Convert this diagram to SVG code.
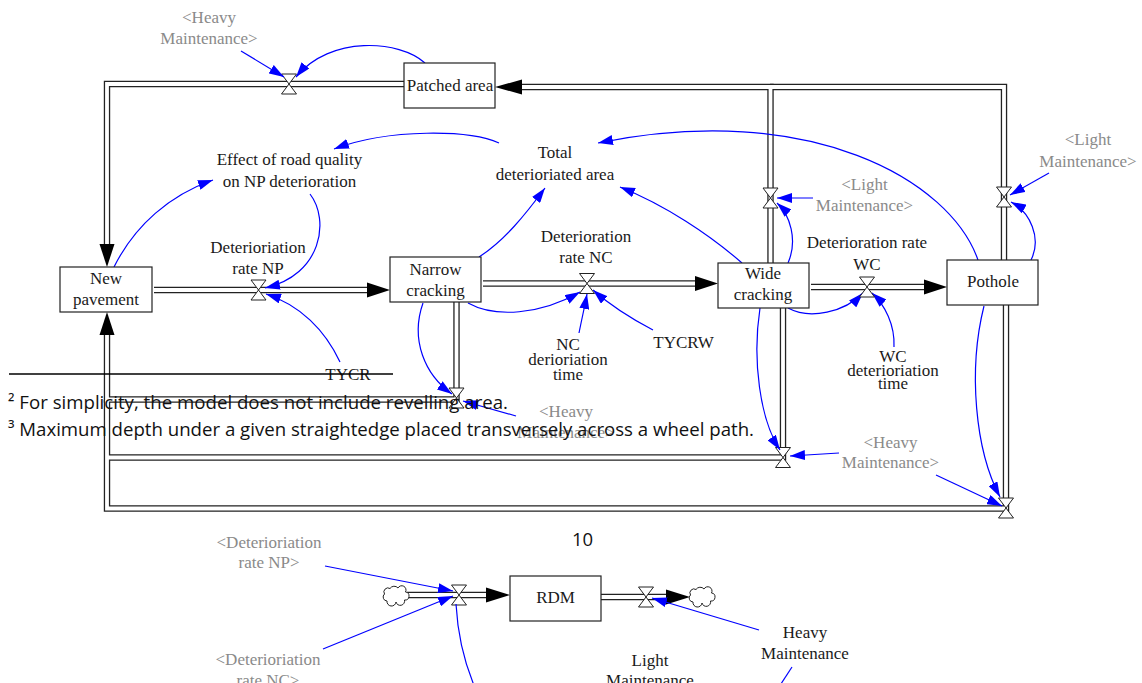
<svg xmlns="http://www.w3.org/2000/svg" width="1142" height="683" viewBox="0 0 1142 683">
<style>
 .t{font-family:"Liberation Serif","Times New Roman",serif;font-size:17px;fill:#1a1a1a;text-anchor:middle}
 .g{fill:#8a8a8a}
 .fn{font-family:"Open Sans","Noto Sans",sans-serif;font-size:18.5px;fill:#111}
 .box{fill:#fff;stroke:#222;stroke-width:1.2}
 .po{fill:none;stroke:#222;stroke-width:6.4;stroke-linejoin:miter}
 .pi{fill:none;stroke:#fff;stroke-width:3.8;stroke-linejoin:miter}
 .ph{fill:#000}
 .c{fill:none;stroke:#0000ff;stroke-width:1.2;marker-end:url(#ab)}
 .cn{fill:none;stroke:#0000ff;stroke-width:1.2}
 .v{fill:#fff;stroke:#222;stroke-width:1}
 .cl{fill:#fff;stroke:#222;stroke-width:1}
</style>
<defs>
 <marker id="ab" viewBox="0 0 15 10" refX="15" refY="5" markerWidth="15" markerHeight="10" markerUnits="userSpaceOnUse" orient="auto"><path d="M0,0 L15,5 L0,10 z" fill="#0000ff"/></marker>
 <path id="valve" d="M-7.5,-10 H7.5 L-7.5,10 H7.5 Z"/>
 <path id="cloud" d="M-8,6 A4 4 0 0 1 -10.5,-1 A4 4 0 0 1 -5,-6.5 A5 5 0 0 1 3,-7 A4 4 0 0 1 10.5,-3 A4 4 0 0 1 9.5,5 A4 4 0 0 1 1,7 A4 4 0 0 1 -8,6 Z"/>
</defs>
<rect width="1142" height="683" fill="#fff"/>

<g id="flows">
 <g>
  <path class="po" d="M404 84 H107 V248"/>
  <path class="po" d="M770.5 263 V87 H520"/>
  <path class="po" d="M1004 260 V87 H770"/>
  <path class="po" d="M154 290 H370"/>
  <path class="po" d="M483 283.5 H698"/>
  <path class="po" d="M811 287 H926"/>
  <path class="po" d="M456.5 302 V399.5 H107 V332"/>
  <path class="po" d="M783 308 V457.5 H107"/>
  <path class="po" d="M1006 305 V508.5 H107 V400"/>
  <path class="po" d="M407 595 H489"/>
  <path class="po" d="M601 597 H668"/>
 </g>
 <g>
  <path class="pi" d="M404 84 H107 V248"/>
  <path class="pi" d="M770.5 263 V87 H520"/>
  <path class="pi" d="M1004 260 V87 H770"/>
  <path class="pi" d="M154 290 H370"/>
  <path class="pi" d="M483 283.5 H698"/>
  <path class="pi" d="M811 287 H926"/>
  <path class="pi" d="M456.5 302 V399.5 H107 V332"/>
  <path class="pi" d="M783 308 V457.5 H107"/>
  <path class="pi" d="M1006 305 V508.5 H107 V400"/>
  <path class="pi" d="M407 595 H489"/>
  <path class="pi" d="M601 597 H668"/>
 </g>
 <polygon class="ph" points="99.5,244 114.5,244 107,267"/>
 <polygon class="ph" points="99.5,335 114.5,335 107,312"/>
 <polygon class="ph" points="367,282.5 367,297.5 390,290"/>
 <polygon class="ph" points="695,276 695,291 718,283.5"/>
 <polygon class="ph" points="924,279.5 924,294.5 947,287"/>
 <polygon class="ph" points="522,79.5 522,94.5 495,87"/>
 <polygon class="ph" points="486,587.5 486,602.5 510,595"/>
 <polygon class="ph" points="666,589.5 666,604.5 690,597"/>
 <use href="#valve" class="v" x="289" y="84"/>
 <use href="#valve" class="v" x="770.5" y="198"/>
 <use href="#valve" class="v" x="1004" y="197"/>
 <use href="#valve" class="v" x="456.5" y="398"/>
 <use href="#valve" class="v" x="783" y="457.5"/>
 <use href="#valve" class="v" x="1006" y="508"/>
 <use href="#valve" class="v" x="459" y="595"/>
 <use href="#valve" class="v" x="646" y="597"/>
 <use href="#cloud" class="cl" x="395" y="595"/>
 <use href="#cloud" class="cl" x="701" y="596"/>
</g>

<g id="connectors">
 <path class="c" d="M241 51 L284 77"/>
 <path class="c" d="M425 63 C400 40, 330 35, 296 77"/>
 <path class="c" d="M499 143 C470 130, 390 128, 334 149"/>
 <path class="c" d="M114 267 C135 225, 170 195, 213 180"/>
 <path class="c" d="M310 194 C330 220, 322 275, 265 288"/>
 <path class="c" d="M340 362 C325 330, 300 305, 266 294"/>
 <path class="c" d="M479 257 C505 240, 525 215, 545 188"/>
 <path class="c" d="M742 263 C710 235, 665 205, 620 187"/>
 <path class="c" d="M978 260 C950 180, 810 100, 598 143"/>
 <path class="c" d="M788 263 C798 240, 790 215, 777 203"/>
 <path class="c" d="M813 198 L777 198"/>
 <path class="c" d="M1031 260 C1042 238, 1030 212, 1011 202"/>
 <path class="c" d="M1049 173 L1010 195"/>
 <path class="c" d="M468 303 C495 318, 540 315, 580 292"/>
 <path class="c" d="M579 333 C582 318, 585 305, 587 294"/>
 <path class="c" d="M653 330 C630 318, 610 305, 593 290"/>
 <path class="c" d="M788 308 C810 320, 845 312, 863 293"/>
 <path class="c" d="M894 347 C895 325, 885 305, 872 293"/>
 <path class="c" d="M760 308 C752 360, 760 420, 780 450"/>
 <path class="c" d="M984 306 C968 370, 975 450, 1000 497"/>
 <path class="c" d="M839 453 L790 456"/>
 <path class="c" d="M936 475 L1002 506"/>
 <path class="c" d="M516 416 L463 401"/>
 <path class="c" d="M423 303 C410 340, 425 375, 452 394"/>
 <path class="c" d="M325 566 L453 591"/>
 <path class="c" d="M323 649 L453 596"/>
 <path class="cn" d="M456 604 C458 640, 465 665, 476 690"/>
 <path class="c" d="M759 630 L652 598"/>
 <path class="cn" d="M792 667 L777 690"/>
</g>

<g id="patched_area"><rect class="box" x="404" y="63" width="91" height="45"/><text class="t" x="450" y="91">Patched area</text></g>
<g id="new_pavement"><rect class="box" x="60" y="267" width="92" height="45"/><text class="t" x="106" y="284">New</text><text class="t" x="106" y="305">pavement</text></g>
<g id="narrow_cracking"><rect class="box" x="390" y="257" width="91" height="45"/><text class="t" x="435.5" y="275">Narrow</text><text class="t" x="435.5" y="296">cracking</text></g>
<g id="wide_cracking"><rect class="box" x="718" y="263" width="91" height="45"/><text class="t" x="763" y="279">Wide</text><text class="t" x="763" y="300">cracking</text></g>
<g id="pothole"><rect class="box" x="947" y="260" width="91" height="45"/><text class="t" x="993" y="287">Pothole</text></g>
<g id="rdm"><rect class="box" x="510" y="576" width="91" height="45"/><text class="t" x="555.5" y="603">RDM</text></g>

<g id="effect_road_quality"><text class="t" x="289.5" y="165">Effect of road quality</text><text class="t" x="289.5" y="187">on NP deterioration</text></g>
<g id="total_deteriorated_area"><text class="t" x="555" y="158">Total</text><text class="t" x="555" y="180">deterioriated area</text></g>
<g id="rate_np"><text class="t" x="258" y="253">Deterioriation</text><text class="t" x="258" y="274">rate NP</text><use href="#valve" class="v" x="258.5" y="290"/></g>
<g id="rate_nc"><text class="t" x="586" y="242">Deterioration</text><text class="t" x="586" y="263">rate NC</text><use href="#valve" class="v" x="587" y="283.5"/></g>
<g id="rate_wc"><text class="t" x="867" y="248">Deterioration rate</text><text class="t" x="867" y="270">WC</text><use href="#valve" class="v" x="867" y="287"/></g>
<g id="nc_time"><text class="t" x="568" y="350">NC</text><text class="t" x="568" y="365">derioriation</text><text class="t" x="568" y="380">time</text></g>
<g id="tycrw"><text class="t" x="683.5" y="348">TYCRW</text></g>
<g id="tycr"><text class="t" x="348" y="380">TYCR</text></g>
<g id="wc_time"><text class="t" x="893" y="362">WC</text><text class="t" x="893" y="376">deterioriation</text><text class="t" x="893" y="389">time</text></g>
<g id="heavy_ghost_1"><text class="t g" x="209" y="23">&lt;Heavy</text><text class="t g" x="209" y="44">Maintenance&gt;</text></g>
<g id="light_ghost_1"><text class="t g" x="864.5" y="190">&lt;Light</text><text class="t g" x="864.5" y="211">Maintenance&gt;</text></g>
<g id="light_ghost_2"><text class="t g" x="1088" y="145">&lt;Light</text><text class="t g" x="1088" y="167">Maintenance&gt;</text></g>
<g id="heavy_ghost_2"><text class="t g" x="566" y="417">&lt;Heavy</text><text class="t g" x="566" y="438">Maintenance&gt;</text></g>
<g id="heavy_ghost_3"><text class="t g" x="890.5" y="448">&lt;Heavy</text><text class="t g" x="890.5" y="468">Maintenance&gt;</text></g>
<g id="rate_np_ghost"><text class="t g" x="269" y="548">&lt;Deterioriation</text><text class="t g" x="269" y="568">rate NP&gt;</text></g>
<g id="rate_nc_ghost"><text class="t g" x="268" y="665">&lt;Deterioriation</text><text class="t g" x="268" y="686">rate NC&gt;</text></g>
<g id="light_maintenance"><text class="t" x="650" y="666">Light</text><text class="t" x="650" y="686">Maintenance</text></g>
<g id="heavy_maintenance"><text class="t" x="805" y="638">Heavy</text><text class="t" x="805" y="659">Maintenance</text></g>

<g id="page_text">
 <line x1="9" y1="374" x2="393" y2="374" stroke="#000" stroke-width="1.4"/>
 <text class="fn" x="8" y="409" textLength="500" lengthAdjust="spacingAndGlyphs">² For simplicity, the model does not include revelling area.</text>
 <text class="fn" x="8" y="436" textLength="746" lengthAdjust="spacingAndGlyphs">³ Maximum depth under a given straightedge placed transversely across a wheel path.</text>
 <text class="fn" x="582.5" y="546" text-anchor="middle">10</text>
</g>
</svg>
